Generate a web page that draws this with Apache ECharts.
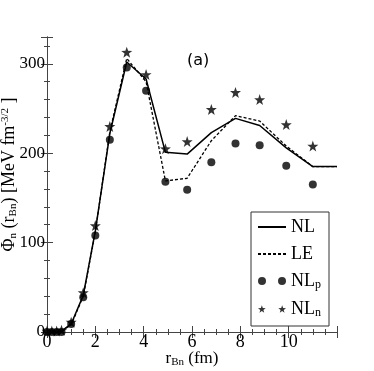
<!DOCTYPE html>
<html>
<head>
<meta charset="utf-8">
<script src="https://cdn.jsdelivr.net/npm/echarts@6/dist/echarts.min.js"></script>
<style>
  html, body { margin: 0; padding: 0; background: #fff; }
  #chart { width: 374px; height: 371px; }
</style>
</head>
<body>
<div id="chart"></div>
<script>
// r_Bn (fm)
const rBn = [0, 0.2, 0.4, 0.6, 1.0, 1.5, 2.0, 2.6, 3.3, 4.1, 4.9, 5.8, 6.8, 7.8, 8.8, 9.9, 11.0, 12.0]
// NL and LE curves
const nlLine = [0, 0, 0, 1, 9, 41, 113, 222, 302, 283, 201, 199, 223, 239, 231, 206, 185, 185]
const leLine = [0, 0, 0, 1, 8, 40, 112, 224, 306, 280, 169, 172, 214, 242, 236, 208, 185, 185]
// NL_p and NL_n points (no point at 12)
const nlP = [0, 0, 0, 0, 9, 39, 108, 215, 296, 270, 168, 159, 190, 211, 209, 186, 165]
const nlN = [1, 1, 1, 2, 11, 44, 119, 230, 313, 288, 205, 213, 249, 268, 260, 232, 208]
const xTicks = [0, 2, 4, 6, 8, 10]
const yTicks = [0, 100, 200, 300]

const pairs = (ys) => ys.map((y, i) => [rBn[i], y])

const starPath = 'path://M4,0L4.94,2.71L7.8,2.76L5.52,4.49L6.35,7.24L4,5.6L1.65,7.24L2.48,4.49L0.2,2.76L3.06,2.71Z'
const twoStars = 'path://M4,0L4.94,2.71L7.8,2.76L5.52,4.49L6.35,7.24L4,5.6L1.65,7.24L2.48,4.49L0.2,2.76L3.06,2.71Z' +
  'M24,0L24.94,2.71L27.8,2.76L25.52,4.49L26.35,7.24L24,5.6L21.65,7.24L22.48,4.49L20.2,2.76L23.06,2.71Z'
const twoDots = 'path://M0,4a4,4 0 1,0 8,0a4,4 0 1,0 -8,0Z M20,4a4,4 0 1,0 8,0a4,4 0 1,0 -8,0Z'

const serif = 'Liberation Serif'
const frame = '#444'
const noMarker = { color: 'rgba(0,0,0,0)', borderWidth: 0, opacity: 0 }

const chart = echarts.init(document.getElementById('chart'))

const axisCommon = {
  axisLine: { show: true, lineStyle: { color: frame, width: 1 } },
  axisTick: { show: true, inside: true, length: 6, lineStyle: { color: frame } },
  minorTick: { show: true, length: 3, lineStyle: { color: frame } },
  splitLine: { show: false },
  minorSplitLine: { show: false }
}

const option = {
  animation: false,
  backgroundColor: '#fff',
  title: {
    text: '(a)',
    left: 182,
    top: 48,
    textStyle: { fontFamily: 'DejaVu Sans', fontWeight: 'normal', fontSize: 16, color: '#000' }
  },
  grid: { left: 47, right: 37, top: 37, bottom: 39, outerBoundsMode: 'none', containLabel: false },
  legend: {
    orient: 'vertical',
    right: 45,
    top: 212,
    backgroundColor: '#fff',
    borderColor: '#333',
    borderWidth: 1,
    borderRadius: 0,
    padding: [6, 8, 7, 6],
    itemGap: 9,
    itemWidth: 28,
    itemHeight: 9,
    textStyle: {
      fontFamily: serif, fontSize: 18, color: '#000',
      rich: { s: { fontFamily: serif, fontSize: 12, color: '#000', padding: [8, 0, 0, 0] } }
    },
    formatter: (name) => {
      if (name === 'NLp') return 'NL{s|p}'
      if (name === 'NLn') return 'NL{s|n}'
      return name
    },
    data: [
      { name: 'NL', itemStyle: noMarker },
      { name: 'LE', itemStyle: noMarker },
      { name: 'NLp', icon: twoDots },
      { name: 'NLn', icon: twoStars }
    ]
  },
  xAxis: [
    Object.assign({}, axisCommon, {
      type: 'value',
      min: 0,
      max: 12,
      interval: 2,
      minorTick: Object.assign({}, axisCommon.minorTick, { splitNumber: 4 }),
      axisLabel: {
        margin: 1,
        fontFamily: serif, fontSize: 18, color: '#000',
        formatter: (v) => xTicks.includes(v) ? String(v) : ''
      },
      name: '{m|r}{s|Bn}{m| (fm)}',
      nameLocation: 'middle',
      nameGap: 17,
      nameMoveOverlap: false,
      nameTextStyle: {
        rich: {
          m: { fontFamily: serif, fontSize: 17, color: '#000' },
          s: { fontFamily: serif, fontSize: 11, color: '#000', padding: [8, 0, 0, 0] }
        }
      }
    }),
    Object.assign({}, axisCommon, {
      type: 'value', position: 'top', min: 0, max: 12, interval: 2,
      minorTick: Object.assign({}, axisCommon.minorTick, { splitNumber: 4 }),
      axisLabel: { show: false }
    })
  ],
  yAxis: [
    Object.assign({}, axisCommon, {
      type: 'value',
      min: 0,
      max: 330,
      interval: 100,
      minorTick: Object.assign({}, axisCommon.minorTick, { splitNumber: 5 }),
      axisLabel: {
        margin: 2,
        fontFamily: serif, fontSize: 17, color: '#000',
        formatter: (v) => yTicks.includes(v) ? String(v) : ''
      },
      name: '{m|Φ}{s|n}{m| (r}{s|Bn}{m|) [MeV fm}{p|-3/2}{m| ]}',
      nameLocation: 'middle',
      nameRotate: 90,
      nameGap: 28,
      nameMoveOverlap: false,
      nameTextStyle: {
        padding: [0, 0, 0, 20],
        rich: {
          m: { fontFamily: serif, fontSize: 18, color: '#000' },
          s: { fontFamily: serif, fontSize: 11, color: '#000', padding: [8, 0, 0, 0] },
          p: { fontFamily: serif, fontSize: 11, color: '#000', padding: [0, 0, 8, 0] }
        }
      }
    }),
    Object.assign({}, axisCommon, {
      type: 'value', position: 'right', min: 0, max: 330, interval: 100,
      minorTick: Object.assign({}, axisCommon.minorTick, { splitNumber: 5 }),
      axisLabel: { show: false }
    })
  ],
  series: [
    {
      name: 'NL', type: 'line', data: pairs(nlLine),
      symbol: 'none', showSymbol: false,
      lineStyle: { color: '#000', width: 1.5 },
      itemStyle: { color: '#000' },
      z: 3
    },
    {
      name: 'LE', type: 'line', data: pairs(leLine),
      symbol: 'none', showSymbol: false,
      lineStyle: { color: '#000', width: 1.3, type: [3, 2] },
      itemStyle: { color: '#000' },
      z: 3
    },
    {
      name: 'NLp', type: 'scatter', data: pairs(nlP),
      symbol: 'circle', symbolSize: 8,
      itemStyle: { color: '#000' },
      z: 4
    },
    {
      name: 'NLn', type: 'scatter', data: pairs(nlN),
      symbol: starPath, symbolSize: 11,
      itemStyle: { color: '#000' },
      z: 4
    }
  ]
}

chart.setOption(option)
</script>
</body>
</html>
